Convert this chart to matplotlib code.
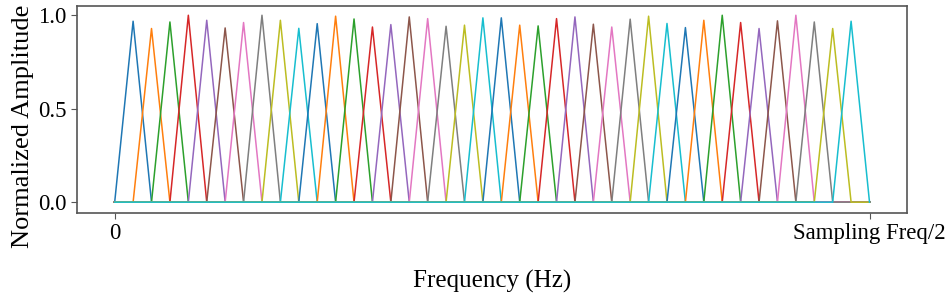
import matplotlib
matplotlib.use('Agg')
import matplotlib.pyplot as plt
import numpy as np

# Filter bank: 40 linear triangular filters between 0 and Sampling Freq/2
n_filters = 40
# peak height of each filter
peak_heights = [0.968, 0.929, 0.964, 1.000, 0.973, 0.932, 0.961, 1.000, 0.973, 0.930,
                0.955, 0.995, 0.980, 0.937, 0.950, 0.991, 0.982, 0.941, 0.947, 0.986,
                0.986, 0.947, 0.943, 0.982, 0.991, 0.952, 0.937, 0.979, 0.995, 0.956,
                0.934, 0.973, 1.000, 0.961, 0.929, 0.970, 1.000, 0.964, 0.929, 0.968]
tick_pos = [0, 1]
tick_labels = ['0', 'Sampling Freq/2']

plt.rcParams['font.family'] = ['Liberation Serif', 'DejaVu Serif']

fig = plt.figure(figsize=(9.5, 2.95), dpi=100)
ax = fig.add_axes([0.081, 0.278, 0.874, 0.702])

# filter edges in normalised frequency (0 .. fs/2)
edges = np.linspace(0, 1, n_filters + 2)
for i in range(n_filters):
    x = [0, edges[i], edges[i + 1], edges[i + 2], 1]
    y = [0, 0, peak_heights[i], 0, 0]
    ax.plot(x, y, linewidth=1.1)

ax.set_ylim(-0.058, 1.05)
ax.set_yticks([0.0, 0.5, 1.0])
ax.set_yticklabels(['0.0', '0.5', '1.0'])
ax.set_xticks(tick_pos)
ax.set_xticklabels(tick_labels)

for s in ax.spines.values():
    s.set_color('#555555')
    s.set_linewidth(1.2)
ax.tick_params(colors='#555555', labelcolor='black', labelsize=16.4, length=4)

ax.set_ylabel('Normalized Amplitude', fontsize=19)
ax.yaxis.set_label_coords(-0.052, 0.42)
ax.set_xlabel('Frequency (Hz)', fontsize=18, labelpad=18)

plt.savefig('out.png', dpi=100)
plt.close()
